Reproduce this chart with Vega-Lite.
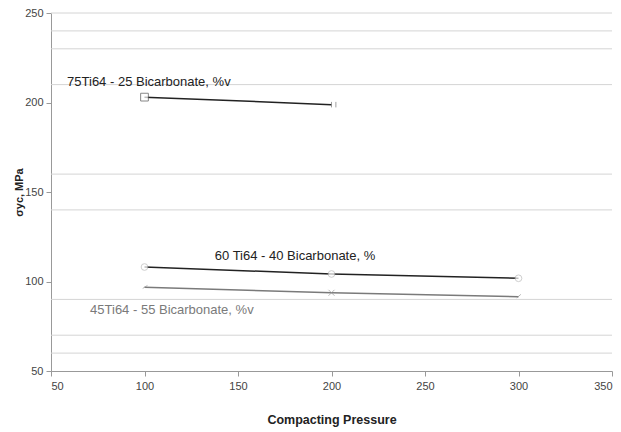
{
  "$schema": "https://vega.github.io/schema/vega-lite/v6.json",
  "width": 561,
  "height": 358,
  "autosize": "none",
  "padding": {"left": 51, "top": 13, "right": 9, "bottom": 61},
  "background": "white",
  "config": {
    "view": {"stroke": null},
    "font": "Liberation Sans",
    "axis": {"labelFont": "Liberation Sans", "titleFont": "Liberation Sans", "labelColor": "#444", "titleColor": "#222", "domainColor": "#999", "tickColor": "#999", "labelFontSize": 11, "titleFontSize": 11, "titleFontWeight": "bold", "grid": false}
  },
  "datasets": {
    "pts": [
      {"series": "75Ti64", "p": 100, "s": 203.0},
      {"series": "75Ti64", "p": 200, "s": 198.8},
      {"series": "60Ti64", "p": 100, "s": 108.1},
      {"series": "60Ti64", "p": 200, "s": 104.2},
      {"series": "60Ti64", "p": 300, "s": 101.8},
      {"series": "45Ti64", "p": 100, "s": 96.8},
      {"series": "45Ti64", "p": 200, "s": 93.7},
      {"series": "45Ti64", "p": 300, "s": 91.5}
    ],
    "grid": [{"g": 60}, {"g": 70}, {"g": 90}, {"g": 140}, {"g": 160}, {"g": 210}, {"g": 230}, {"g": 240}, {"g": 250}],
    "labels": [
      {"t": "75Ti64 - 25 Bicarbonate, %v", "p": 58.6, "s": 211.5, "series": "75Ti64", "al": "left"},
      {"t": "60 Ti64 - 40 Bicarbonate, %", "p": 180.5, "s": 114.2, "series": "60Ti64", "al": "center"},
      {"t": "45Ti64 - 55 Bicarbonate, %v", "p": 70.9, "s": 84, "series": "45Ti64", "al": "left"}
    ]
  },
  "layer": [
    {
      "data": {"name": "grid"},
      "mark": {"type": "rule", "color": "#d4d4d4", "strokeWidth": 1},
      "encoding": {"y": {"field": "g", "type": "quantitative", "scale": {"domain": [50, 250]}}}
    },
    {
      "data": {"name": "pts"},
      "mark": {"type": "line", "strokeWidth": 1.5},
      "encoding": {
        "x": {"field": "p", "type": "quantitative", "scale": {"domain": [50, 350], "nice": false}, "axis": {"values": [50, 100, 150, 200, 250, 300, 350], "title": "Compacting Pressure", "titleFontSize": 12.5, "titlePadding": 22, "tickSize": 5, "labelPadding": 4}},
        "y": {"field": "s", "type": "quantitative", "scale": {"domain": [50, 250], "nice": false}, "axis": {"values": [50, 100, 150, 200, 250], "title": "σyc, MPa", "titlePadding": 0, "tickSize": 5, "labelPadding": 3}},
        "color": {"field": "series", "type": "nominal", "scale": {"domain": ["75Ti64", "60Ti64", "45Ti64"], "range": ["#222222", "#222222", "#7a7a7a"]}, "legend": null},
        "detail": {"field": "series"}
      }
    },
    {
      "data": {"name": "pts"},
      "transform": [{"filter": "datum.series == '75Ti64' && datum.p == 100"}],
      "mark": {"type": "point", "shape": "square", "filled": true, "fill": "white", "stroke": "#555", "strokeWidth": 1, "size": 60},
      "encoding": {"x": {"field": "p", "type": "quantitative"}, "y": {"field": "s", "type": "quantitative"}}
    },
    {
      "data": {"name": "pts"},
      "transform": [{"filter": "datum.series == '75Ti64' && datum.p == 200"}],
      "mark": {"type": "point", "shape": "M0,-1L0,1M1.6,-1L1.6,1", "stroke": "#777", "strokeWidth": 1, "size": 30},
      "encoding": {"x": {"field": "p", "type": "quantitative"}, "y": {"field": "s", "type": "quantitative"}}
    },
    {
      "data": {"name": "pts"},
      "transform": [{"filter": "datum.series == '60Ti64'"}],
      "mark": {"type": "point", "shape": "circle", "filled": true, "fill": "white", "stroke": "#bbb", "strokeWidth": 1, "size": 45},
      "encoding": {"x": {"field": "p", "type": "quantitative"}, "y": {"field": "s", "type": "quantitative"}}
    },
    {
      "data": {"name": "pts"},
      "transform": [{"filter": "datum.series == '45Ti64' && datum.p == 200"}],
      "mark": {"type": "point", "shape": "M-1,-1L1,1M-1,1L1,-1", "stroke": "#999", "strokeWidth": 1, "size": 35},
      "encoding": {"x": {"field": "p", "type": "quantitative"}, "y": {"field": "s", "type": "quantitative"}}
    },
    {
      "data": {"name": "pts"},
      "transform": [{"filter": "datum.series == '45Ti64' && datum.p == 100"}],
      "mark": {"type": "point", "shape": "M1,-0.6L-0.6,0.4", "stroke": "#999", "strokeWidth": 1, "size": 35},
      "encoding": {"x": {"field": "p", "type": "quantitative"}, "y": {"field": "s", "type": "quantitative"}}
    },
    {
      "data": {"name": "pts"},
      "transform": [{"filter": "datum.series == '45Ti64' && datum.p == 300"}],
      "mark": {"type": "point", "shape": "M-0.6,0.4L0.8,-0.8", "stroke": "#999", "strokeWidth": 1, "size": 35},
      "encoding": {"x": {"field": "p", "type": "quantitative"}, "y": {"field": "s", "type": "quantitative"}}
    },
    {
      "data": {"name": "labels"},
      "transform": [{"filter": "datum.al == 'left'"}],
      "mark": {"type": "text", "align": "left", "baseline": "middle", "fontSize": 13, "font": "Liberation Sans"},
      "encoding": {
        "x": {"field": "p", "type": "quantitative"},
        "y": {"field": "s", "type": "quantitative"},
        "text": {"field": "t"},
        "color": {"field": "series", "type": "nominal", "scale": {"domain": ["75Ti64", "60Ti64", "45Ti64"], "range": ["#222222", "#222222", "#7a7a7a"]}, "legend": null}
      }
    },
    {
      "data": {"name": "labels"},
      "transform": [{"filter": "datum.al == 'center'"}],
      "mark": {"type": "text", "align": "center", "baseline": "middle", "fontSize": 13, "font": "Liberation Sans", "color": "#222"},
      "encoding": {
        "x": {"field": "p", "type": "quantitative"},
        "y": {"field": "s", "type": "quantitative"},
        "text": {"field": "t"}
      }
    }
  ]
}
